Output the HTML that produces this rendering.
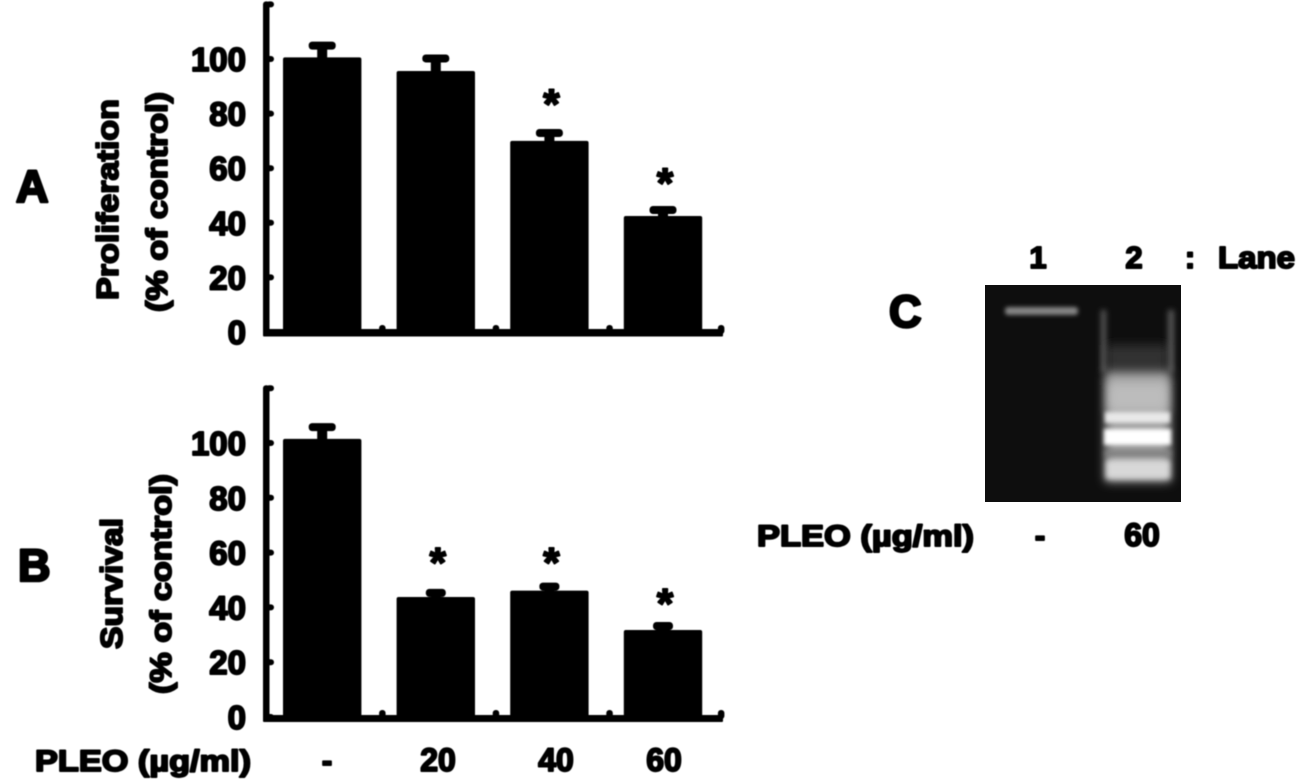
<!DOCTYPE html>
<html lang="en">
<head>
<meta charset="utf-8">
<title>PLEO proliferation, survival and DNA laddering</title>
<style>
html,body{margin:0;padding:0;background:#fff;width:1299px;height:779px;overflow:hidden}
svg{display:block}
text{font-family:"Liberation Sans",sans-serif;font-weight:700;fill:#000;stroke:#000;stroke-width:1.9px;stroke-linejoin:round}
text.big{stroke-width:2.6px}
</style>
</head>
<body>
<svg id="fig" xmlns="http://www.w3.org/2000/svg" width="1299" height="779" viewBox="0 0 1299 779">
  <defs>
    <filter id="soft" filterUnits="userSpaceOnUse" x="0" y="0" width="1299" height="779"><feGaussianBlur stdDeviation="0.5"/></filter>
    <filter id="gelblur" filterUnits="userSpaceOnUse" x="985" y="285" width="196" height="217"><feGaussianBlur stdDeviation="5"/></filter>
    <filter id="gelblur2" filterUnits="userSpaceOnUse" x="985" y="285" width="196" height="217"><feGaussianBlur stdDeviation="2.8"/></filter>
    <filter id="gelblur3" filterUnits="userSpaceOnUse" x="985" y="285" width="196" height="217"><feGaussianBlur stdDeviation="2.2"/></filter>
    <clipPath id="gelclip"><rect x="985" y="285" width="196" height="217"/></clipPath>
  </defs>

  <g id="charts" filter="url(#soft)"></g>

  <g filter="url(#soft)">
    <text class="big" x="16" y="202" font-size="45">A</text>
    <text class="big" x="18" y="581" font-size="45">B</text>
    <text class="big" x="889" y="327" font-size="45">C</text>

    <text transform="translate(118,300) rotate(-90)" font-size="31" textLength="201" lengthAdjust="spacingAndGlyphs">Proliferation</text>
    <text transform="translate(167,312) rotate(-90)" font-size="30" textLength="220" lengthAdjust="spacingAndGlyphs">(% of control)</text>
    <text transform="translate(122,649) rotate(-90)" font-size="31" textLength="131" lengthAdjust="spacingAndGlyphs">Survival</text>
    <text transform="translate(171,694) rotate(-90)" font-size="30" textLength="220" lengthAdjust="spacingAndGlyphs">(% of control)</text>

    <text x="35" y="771" font-size="30" textLength="216" lengthAdjust="spacingAndGlyphs">PLEO (µg/ml)</text>
    <text x="327" y="771" font-size="31" text-anchor="middle">-</text>
    <text x="438" y="771" font-size="32" text-anchor="middle">20</text>
    <text x="556" y="771" font-size="32" text-anchor="middle">40</text>
    <text x="664" y="771" font-size="32" text-anchor="middle">60</text>

    <text x="1038" y="268" font-size="31" text-anchor="middle">1</text>
    <text x="1134" y="268" font-size="31" text-anchor="middle">2</text>
    <text x="1190" y="268" font-size="31" text-anchor="middle">:</text>
    <text x="1218" y="268" font-size="31" textLength="77" lengthAdjust="spacingAndGlyphs">Lane</text>

    <text x="757" y="546" font-size="30" textLength="217" lengthAdjust="spacingAndGlyphs">PLEO (µg/ml)</text>
    <text x="1040" y="546" font-size="31" text-anchor="middle">-</text>
    <text x="1142" y="546" font-size="32" text-anchor="middle">60</text>
  </g>

  <g id="gel">
    <rect x="985" y="285" width="196" height="217" fill="#0e0e0e"/>
    <g clip-path="url(#gelclip)">
      <rect x="1106" y="345" width="62" height="40" fill="#303030" filter="url(#gelblur)"/>
      <rect x="1005" y="307" width="73" height="8" rx="3" fill="#858585" filter="url(#gelblur3)"/>
      <rect x="1101" y="310" width="5" height="62" fill="#5a5a5a" filter="url(#gelblur2)"/>
      <rect x="1168" y="310" width="6" height="62" fill="#5a5a5a" filter="url(#gelblur2)"/>
      <rect x="1105" y="372" width="66" height="110" fill="#a0a0a0" filter="url(#gelblur)"/>
      <rect x="1108" y="382" width="60" height="30" fill="#bcbcbc" filter="url(#gelblur)"/>
      <rect x="1105" y="412" width="65" height="11" fill="#e8e8e8" filter="url(#gelblur3)"/>
      <rect x="1104" y="429" width="67" height="16" fill="#ffffff" filter="url(#gelblur3)"/>
      <rect x="1105" y="450" width="66" height="7" fill="#808080" filter="url(#gelblur2)"/>
      <rect x="1106" y="460" width="64" height="19" fill="#d8d8d8" filter="url(#gelblur2)"/>
    </g>
  </g>
</svg>

<script>
var categories = ["control", "20", "40", "60"];
var proliferationValues = [100.6, 95.6, 70, 42.5];
var proliferationErrors = [4.3, 4.6, 2.9, 2.2];
var proliferationStarLevels = [null, null, 85.2, 56.2];
var survivalValues = [101.5, 43.8, 46.1, 31.75];
var survivalErrors = [4.3, 1.5, 1.5, 1.45];
var survivalStarLevels = [null, 58, 58, 43];
var yTickLabels = [0, 20, 40, 60, 80, 100];
var yAxisMax = 120;

var NS = "http://www.w3.org/2000/svg";
var root = document.getElementById("charts");

function make(tag, attrs, parent) {
  var el = document.createElementNS(NS, tag);
  for (var k in attrs) { el.setAttribute(k, attrs[k]); }
  parent.appendChild(el);
  return el;
}

function drawPanel(panelId, zeroY, pxPerUnit, values, errors, starLevels, axisTopOffset, axisBottomOffset, narrowCaps) {
  var g = make("g", {}, root);
  
  

  var axisX = 266;
  var bandLeft = 269;
  var bandStep = 113.6;
  var barInset = 14;
  var barWidth = 78.4;

  function yScale(v) { return zeroY - v * pxPerUnit; }
  function xScale(i) { return bandLeft + i * bandStep + barInset; }

  var yAxis = make("rect", { x: axisX - 3, y: yScale(yAxisMax) - 3, width: 6.5, height: zeroY - yScale(yAxisMax) + 7, rx: 3 }, g);
  
  

  var xAxis = make("rect", { x: axisX - 3, y: zeroY - axisTopOffset, width: 460, height: axisTopOffset + axisBottomOffset, rx: 1 }, g);
  
  

  yTickLabels.concat([yAxisMax]).forEach(function (t) {
    var tick = make("rect", { x: axisX, y: yScale(t) - 3, width: 8, height: 6, rx: 3 }, g);
    
    
  });

  yTickLabels.forEach(function (t) {
    var label = make("text", { x: 246, y: yScale(t) + 12, "font-size": 33, "text-anchor": "end" }, g);
    label.textContent = t;
    
    
  });

  categories.forEach(function (c, i) {
    var x = xScale(i);
    var cx = x + barWidth / 2;
    var top = yScale(values[i]);
    var capY = yScale(values[i] + errors[i]);
    var capWidth = (narrowCaps && i > 0) ? 20 : 27;

    var bar = make("rect", { x: x, y: top, width: barWidth, height: zeroY - top + 1, fill: "#000", rx: 2 }, g);
    
    

    var stem = make("rect", { x: cx - 5, y: capY, width: 10, height: top - capY + 1, fill: "#000" }, g);
    
    

    var cap = make("rect", { x: cx - capWidth / 2, y: capY - 4, width: capWidth, height: 8, rx: 3.5, fill: "#000" }, g);
    
    

    var tickRight = (i === 3);
    var xTick = make("rect", { x: bandLeft + (i + 1) * bandStep - 3.5 + (tickRight ? -2 : 0), y: zeroY - 7, width: 6.5, height: 9, rx: 3 }, g);
    
    

    if (starLevels[i] !== null) {
      var star = make("text", { x: cx + 2, y: yScale(starLevels[i]) + 19, "font-size": 42, "text-anchor": "middle" }, g);
      star.textContent = "*";
      
      
    }
  });
}

drawPanel("panel-a-proliferation", 332, 2.73, proliferationValues, proliferationErrors, proliferationStarLevels, 3, 4.5, false);
drawPanel("panel-b-survival", 717, 2.74, survivalValues, survivalErrors, survivalStarLevels, 2, 5, true);
</script>
</body>
</html>
